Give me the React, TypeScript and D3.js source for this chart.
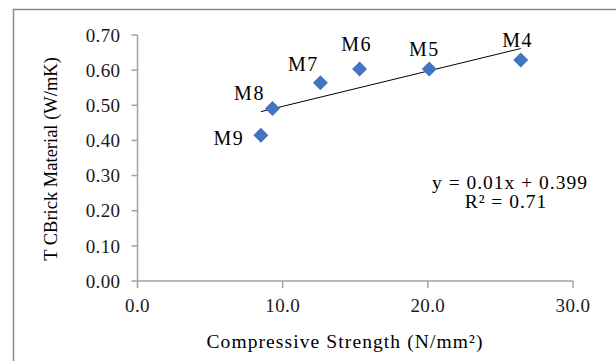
import React, { useMemo } from "react";
import { scaleLinear, symbol, symbolSquare, mean, sum } from "d3";

// Mix labels, compressive strength (N/mm²) and thermal conductivity (W/mK)
const mixes = ["M4", "M5", "M6", "M7", "M8", "M9"];
const strength = [26.4, 20.1, 15.3, 12.6, 9.3, 8.5];
const conductivity = [0.629, 0.603, 0.603, 0.564, 0.491, 0.415];

const xTicks = [0, 10, 20, 30];
const yTicks = [0, 0.1, 0.2, 0.3, 0.4, 0.5, 0.6, 0.7];

const equationText = "y = 0.01x + 0.399";
const r2Text = "R² = 0.71";

const W = 616;
const H = 361;
const PLOT = { left: 137.5, right: 573, top: 35, bottom: 281 };
const FONT = "'Liberation Serif', 'Times New Roman', serif";
const BLUE = "#4472c4";
const AXIS = "#a3a3a3";

// label placement relative to each marker (centre x offset, baseline y offset)
const LABEL_OFFSET: Record<string, [number, number]> = {
  M4: [-3, -12.5],
  M5: [-5, -13],
  M6: [-3, -18],
  M7: [-17, -12],
  M8: [-23, -8],
  M9: [-32, 10],
};

export default function App() {
  const x = scaleLinear().domain([0, 30]).range([PLOT.left, PLOT.right]);
  const y = scaleLinear().domain([0, 0.7]).range([PLOT.bottom, PLOT.top]);

  // least-squares trend line over the plotted points
  const trend = useMemo(() => {
    const mx = mean(strength) ?? 0;
    const my = mean(conductivity) ?? 0;
    const sxy = sum(strength, (v, i) => (v - mx) * (conductivity[i] - my));
    const sxx = sum(strength, (v) => (v - mx) ** 2);
    const slope = sxy / sxx;
    const icpt = my - slope * mx;
    const x0 = Math.min(...strength);
    const x1 = Math.max(...strength);
    return { x0, x1, y0: icpt + slope * x0, y1: icpt + slope * x1 };
  }, []);

  const diamond = symbol().type(symbolSquare).size(112)() ?? "";

  return (
    <svg
      width={W}
      height={H}
      style={{ position: "absolute", left: 0, top: 0, background: "#fff" }}
      fontFamily={FONT}
    >
      <rect x={13.5} y={9.5} width={W} height={H} fill="#fff" stroke="#8a8a8a" strokeWidth={1.5} />

      {/* axes */}
      <line x1={PLOT.left} x2={PLOT.left} y1={y(0.7)} y2={PLOT.bottom} stroke={AXIS} strokeWidth={1.5} />
      <line x1={PLOT.left} x2={PLOT.right} y1={PLOT.bottom} y2={PLOT.bottom} stroke={AXIS} strokeWidth={1.5} />

      {yTicks.map((t) => (
        <g key={`y${t}`}>
          <line x1={PLOT.left - 6} x2={PLOT.left} y1={y(t)} y2={y(t)} stroke={AXIS} strokeWidth={1.5} />
          <text
            x={PLOT.left - 17}
            y={y(t)}
            dy="0.35em"
            textAnchor="end"
            fontSize={19}
            letterSpacing={0.4}
            fill="#1a1a1a"
          >
            {t.toFixed(2)}
          </text>
        </g>
      ))}

      {xTicks.map((t) => (
        <g key={`x${t}`}>
          <line x1={x(t)} x2={x(t)} y1={PLOT.bottom} y2={PLOT.bottom + 7} stroke={AXIS} strokeWidth={1.5} />
          <text
            x={x(t)}
            y={PLOT.bottom + 31}
            textAnchor="middle"
            fontSize={19}
            letterSpacing={0.4}
            fill="#1a1a1a"
          >
            {t.toFixed(1)}
          </text>
        </g>
      ))}

      {/* trend line */}
      <line
        x1={x(trend.x0)}
        x2={x(trend.x1)}
        y1={y(trend.y0)}
        y2={y(trend.y1)}
        stroke="#000"
        strokeWidth={1}
      />

      {/* markers */}
      {mixes.map((m, i) => (
        <path
          key={m}
          d={diamond}
          transform={`translate(${x(strength[i])},${y(conductivity[i])}) rotate(45)`}
          fill={BLUE}
        />
      ))}

      {/* point labels */}
      {mixes.map((m, i) => {
        const [dx, dy] = LABEL_OFFSET[m];
        return (
          <text
            key={`l${m}`}
            x={x(strength[i]) + dx}
            y={y(conductivity[i]) + dy}
            textAnchor="middle"
            fontSize={20}
            letterSpacing={1.5}
            fill="#000"
          >
            {m}
          </text>
        );
      })}

      {/* regression annotation */}
      <text x={510} y={189} textAnchor="middle" fontSize={19.5} letterSpacing={1} fill="#000">
        {equationText}
      </text>
      <text x={506} y={208} textAnchor="middle" fontSize={19.5} letterSpacing={1} fill="#000">
        {r2Text}
      </text>

      {/* axis titles */}
      <text x={345} y={348} textAnchor="middle" fontSize={19.5} letterSpacing={1.1} fill="#000">
        Compressive Strength (N/mm²)
      </text>
      <text
        transform={`translate(57,159) rotate(-90)`}
        textAnchor="middle"
        fontSize={18.5}
        fill="#000"
      >
        T CBrick Material (W/mK)
      </text>
    </svg>
  );
}
